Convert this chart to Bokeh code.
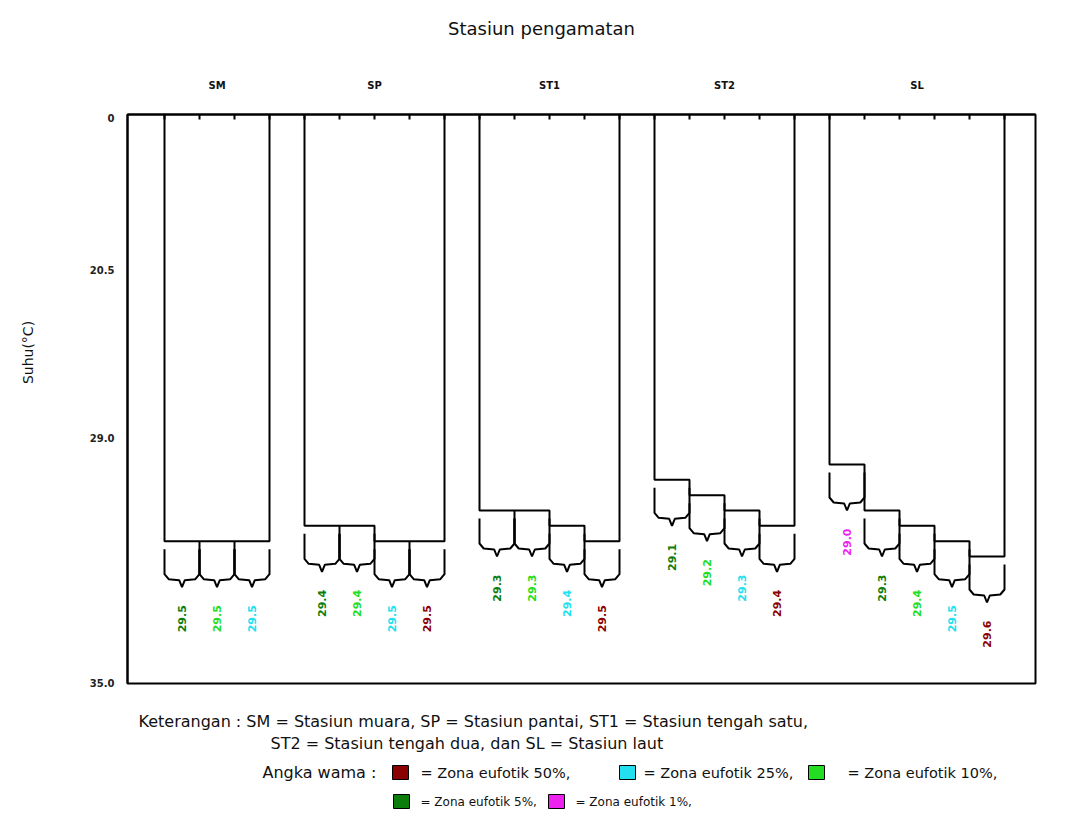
import numpy as np
from bokeh.plotting import figure
from bokeh.models import Range1d, FixedTicker, ColumnDataSource
from bokeh.layouts import column, row
from bokeh.embed import file_html
from bokeh.resources import INLINE
from bokeh.core.properties import value

# ---------------------------------------------------------------- data
stations = ["SM", "SP", "ST1", "ST2", "SL"]

# water temperature (deg C) of each euphotic-zone sample, per station
temp_sm = [29.5, 29.5, 29.5]
temp_sp = [29.4, 29.4, 29.5, 29.5]
temp_st1 = [29.3, 29.3, 29.4, 29.5]
temp_st2 = [29.1, 29.2, 29.3, 29.4]
temp_sl = [29.0, 29.3, 29.4, 29.5, 29.6]

# euphotic zone of each sample
zone_sm = ["5%", "10%", "25%"]
zone_sp = ["5%", "10%", "25%", "50%"]
zone_st1 = ["5%", "10%", "25%", "50%"]
zone_st2 = ["5%", "10%", "25%", "50%"]
zone_sl = ["1%", "5%", "10%", "25%", "50%"]

zone_names = ["50%", "25%", "10%", "5%", "1%"]
zone_colors = ["#8b0000", "#22e0f0", "#22dd22", "#0b7d0b", "#ee22ee"]

y_tick_labels = ["0", "20.5", "29.0", "35.0"]

station_temps = [temp_sm, temp_sp, temp_st1, temp_st2, temp_sl]
station_zones = [zone_sm, zone_sp, zone_st1, zone_st2, zone_sl]
zone_color = dict(zip(zone_names, zone_colors))

# ---------------------------------------------------------------- layout helpers
W = 1080
H_HEAD, H_CHART, H_NOTES = 100, 600, 117
W_STRIP = 60
FRAME_L, FRAME_R = 127, 1035            # page x of the plot box
FRAME_T, FRAME_B = 114, 683             # page y of the plot box
COL_PX, X0_PX = 35.0, 164.0             # one sample column = 35 px
PX_PER_DEG, T_REF, T_REF_PX = 153.33, 29.0, 464.0


def px_to_x(px):
    return (px - X0_PX) / COL_PX


def px_to_t(py):
    return T_REF + (py - T_REF_PX) / PX_PER_DEG


d = 1.0 / PX_PER_DEG                    # one vertical pixel in deg C

x_range = Range1d(px_to_x(FRAME_L), px_to_x(FRAME_R))
y_range = Range1d(px_to_t(FRAME_B), px_to_t(FRAME_T))   # inverted: warmer goes down
top = y_range.end

common = dict(toolbar_location=None, output_backend="svg", frame_align=False,
              background_fill_color="white", border_fill_color="white")

p = figure(width=W - W_STRIP, height=H_CHART, x_range=x_range, y_range=y_range,
           x_axis_location="above", y_axis_location="left",
           min_border_left=FRAME_L - W_STRIP, min_border_right=W - FRAME_R,
           min_border_top=FRAME_T - H_HEAD, min_border_bottom=H_HEAD + H_CHART - FRAME_B,
           **common)
p.grid.visible = False
p.outline_line_color = "black"
p.outline_line_width = 2

# ---------------------------------------------------------------- tree per station
frame_xs, frame_ys = [], []
brace_xs, brace_ys = [], []
lab = dict(x=[], y=[], text=[], color=[])
col_ticks, centers = [], []

start = 0
for temps, zones in zip(station_temps, station_zones):
    n = len(temps)
    col_ticks += list(range(start, start + n + 1))
    centers.append(start + n / 2)
    # consecutive samples of equal temperature share one level
    groups = []
    i = 0
    while i < n:
        j = i
        while j + 1 < n and temps[j + 1] == temps[i]:
            j += 1
        groups.append((i, j, temps[i]))
        i = j + 1

    xs, ys = [start], [top]
    for i0, i1, t in groups:
        xs += [start + i0, start + i1 + 1]
        ys += [t, t]
        for k in range(i0 + 1, i1 + 1):
            frame_xs.append([start + k, start + k])
            frame_ys.append([t, t + 33 * d])
    xs.append(start + n)
    ys.append(top)
    frame_xs.append(xs)
    frame_ys.append(ys)

    for k, (t, z) in enumerate(zip(temps, zones)):
        x0 = start + k
        brace_xs.append([x0, x0, x0 + 0.12, x0 + 0.42, x0 + 0.5,
                         x0 + 0.58, x0 + 0.88, x0 + 1, x0 + 1])
        brace_ys.append([t + 8 * d, t + 33 * d, t + 38 * d, t + 39 * d, t + 46 * d,
                         t + 39 * d, t + 38 * d, t + 33 * d, t + 8 * d])
        lab["x"].append(x0 + 0.5)
        lab["y"].append(t + 64 * d)
        lab["text"].append(f"{t:.1f}")
        lab["color"].append(zone_color[z])
    start += n + 1

p.multi_line(frame_xs, frame_ys, line_color="black", line_width=2)
p.multi_line(brace_xs, brace_ys, line_color="black", line_width=2)
p.text(x="x", y="y", text="text", text_color="color", source=ColumnDataSource(lab),
       angle=np.pi / 2, text_align="right", text_baseline="middle",
       text_font=value("DejaVu Sans"), text_font_size="11px", text_font_style="bold")

# ---------------------------------------------------------------- axes
y_ticks = [px_to_t(117), px_to_t(269), px_to_t(437), px_to_t(682.5)]
yax = p.yaxis[0]
yax.ticker = FixedTicker(ticks=y_ticks)
yax.major_label_overrides = dict(zip(y_ticks, y_tick_labels))
yax.major_tick_in = 0
yax.major_tick_out = 0
yax.minor_tick_line_color = None
yax.axis_line_color = "black"
yax.axis_line_width = 2
yax.major_label_standoff = 13
yax.major_label_text_font = "DejaVu Sans"
yax.major_label_text_font_size = "10px"
yax.major_label_text_font_style = "bold"
yax.major_label_text_color = "#222222"

# column ticks along the top edge, pointing into the box, unlabelled
xax = p.xaxis[0]
xax.ticker = FixedTicker(ticks=col_ticks)
xax.major_label_overrides = {t: "" for t in col_ticks}
xax.major_tick_in = 5
xax.major_tick_out = 0
xax.major_tick_line_width = 2
xax.minor_tick_line_color = None
xax.axis_line_color = "black"
xax.axis_line_width = 2
xax.major_label_text_font_size = "8px"
xax.major_label_standoff = 0

# ---------------------------------------------------------------- header: title and station names
head = figure(width=W, height=H_HEAD, x_range=x_range, y_range=Range1d(H_HEAD, 0),
              x_axis_location=None, y_axis_location=None, outline_line_color=None,
              min_border_left=FRAME_L, min_border_right=W - FRAME_R,
              min_border_top=0, min_border_bottom=0, **common)
head.grid.visible = False
head.text(x=[px_to_x(541)], y=[28], text=["Stasiun pengamatan"],
          text_align="center", text_baseline="middle", text_color="#111111",
          text_font=value("DejaVu Sans"), text_font_size="18px")
head.text(x=centers, y=[85] * len(stations), text=stations,
          text_align="center", text_baseline="middle", text_color="#111111",
          text_font=value("DejaVu Sans"), text_font_size="10px", text_font_style="bold")

# ---------------------------------------------------------------- left strip: axis title
strip = figure(width=W_STRIP, height=H_CHART, x_range=Range1d(0, W_STRIP),
               y_range=Range1d(H_CHART, 0), x_axis_location=None, y_axis_location=None,
               outline_line_color=None, min_border=0, **common)
strip.grid.visible = False
strip.text(x=[27], y=[352 - H_HEAD], text=["Suhu(°C)"], angle=np.pi / 2,
           text_align="center", text_baseline="middle", text_color="#111111",
           text_font=value("DejaVu Sans"), text_font_size="14px")

# ---------------------------------------------------------------- notes below the chart
notes = figure(width=W, height=H_NOTES, x_range=Range1d(0, W), y_range=Range1d(H_NOTES, 0),
               x_axis_location=None, y_axis_location=None, outline_line_color=None,
               min_border=0, **common)
notes.grid.visible = False

font = dict(text_font=value("DejaVu Sans"), text_color="#111111",
            text_baseline="middle", text_align="left")
row_y = [21, 43, 72, 101]
notes.text(x=[138, 270], y=row_y[:2],
           text=["Keterangan : SM = Stasiun muara, SP = Stasiun pantai, ST1 = Stasiun tengah satu,",
                 "ST2 = Stasiun tengah dua, dan SL = Stasiun laut"],
           text_font_size="16px", **font)
notes.text(x=[262], y=[row_y[2]], text=["Angka wama :"], text_font_size="16px", **font)

swatch_x = [400, 627, 816, 401, 556]
swatch_y = [row_y[2]] * 3 + [row_y[3]] * 2
label_x = [420, 643, 847, 420, 575]
notes.rect(x=swatch_x, y=swatch_y, width=16, height=14,
           fill_color=zone_colors, line_color="black", line_width=1)
notes.text(x=label_x[:3], y=swatch_y[:3],
           text=[f"= Zona eufotik {z}," for z in zone_names[:3]], text_font_size="14.5px", **font)
notes.text(x=label_x[3:], y=swatch_y[3:],
           text=[f"= Zona eufotik {z}," for z in zone_names[3:]], text_font_size="12px", **font)

layout = column(head, row(strip, p, spacing=0), notes, spacing=0)
open("out.html", "w").write(file_html(layout, INLINE))
